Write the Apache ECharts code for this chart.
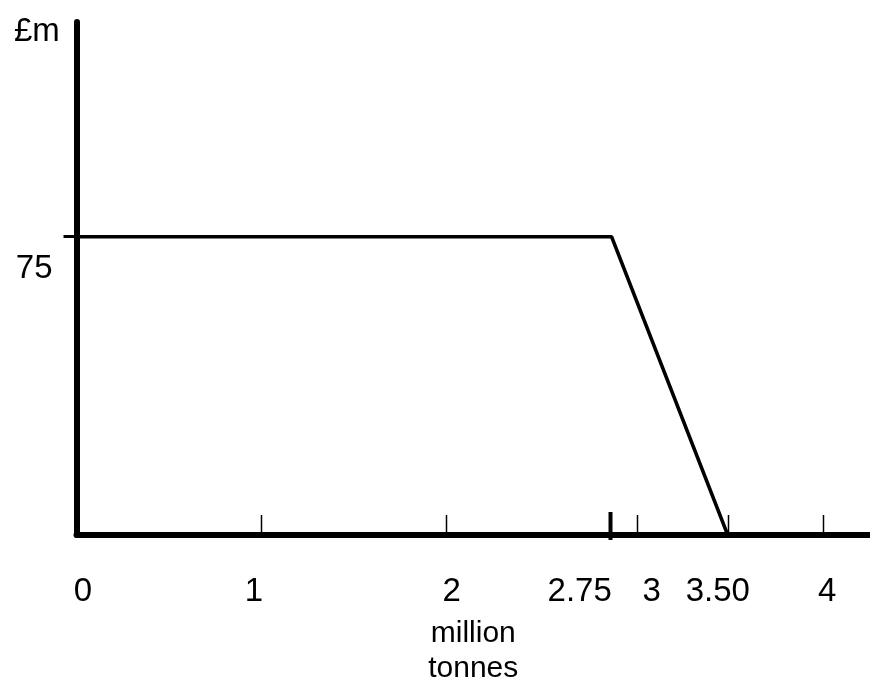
<!DOCTYPE html>
<html style="height: 100%">
    <head>
        <meta charset="utf-8">
        <title>£m vs million tonnes</title>
        <script type="text/javascript" src="https://cdn.jsdelivr.net/npm/echarts@6/dist/echarts.min.js"></script>
    </head>
    <body style="height: 100%; margin: 0; background: #fff">
        <div id="container" style="width: 870px; height: 691px"></div>
        <script type="text/javascript">

        // the kinked line (x in million tonnes as drawn, y in £m)
        var lineX = [0, 2.866, 3.488];
        var lineY = [75, 75, 0];

        // tick marks along the x axis, where they sit on the drawn scale
        var tickPos = [0.99, 1.98, 2.855, 3.0, 3.488, 4.0];
        var tickText = ['1', '2', '2.75', '3', '3.50', '4'];

        // x labels, placed a little off their ticks like the original
        var xLabelPos = [0.035, 0.95, 2.01, 2.695, 3.08, 3.435, 4.02];
        var xLabelText = ['0', '1', '2', '2.75', '3', '3.50', '4'];

        // y axis: a single marked value with its label just below it
        var yTickPos = [75];
        var yLabelPos = [66.9];
        var yLabelText = ['75'];

        var font = 'Liberation Sans, Arial, sans-serif';

        var dom = document.getElementById("container");
        var myChart = echarts.init(dom);

        var lineData = [];
        for (var i = 0; i < lineX.length; i++) {
            lineData.push([lineX[i], lineY[i]]);
        }

        function nearestText(v, pos, text) {
            var best = 0;
            for (var i = 1; i < pos.length; i++) {
                if (Math.abs(pos[i] - v) < Math.abs(pos[best] - v)) best = i;
            }
            return text[best];
        }

        var option = {
            animation: false,
            backgroundColor: '#fff',
            grid: {
                left: 76.5,
                right: 0,
                top: 22,
                bottom: 144
            },
            xAxis: {
                type: 'value',
                min: 0,
                max: 4.25,
                name: 'million\ntonnes',
                nameLocation: 'middle',
                nameGap: 81,
                nameTextStyle: {
                    color: '#000',
                    fontFamily: font,
                    fontSize: 30,
                    lineHeight: 35
                },
                axisLine: { show: true, lineStyle: { color: '#000', width: 6 } },
                axisTick: { show: false },
                splitLine: { show: false },
                axisLabel: {
                    customValues: xLabelPos,
                    margin: 40,
                    color: '#000',
                    fontFamily: font,
                    fontSize: 33,
                    formatter: function (v) {
                        return nearestText(v, xLabelPos, xLabelText);
                    }
                }
            },
            yAxis: {
                type: 'value',
                min: 0,
                max: 129,
                axisLine: { show: true, lineStyle: { color: '#000', width: 6 } },
                splitLine: { show: false },
                axisTick: {
                    show: true,
                    customValues: yTickPos,
                    inside: false,
                    length: 13,
                    lineStyle: { color: '#000', width: 3 }
                },
                axisLabel: {
                    customValues: yLabelPos,
                    margin: 24,
                    color: '#000',
                    fontFamily: font,
                    fontSize: 33,
                    formatter: function (v) {
                        return nearestText(v, yLabelPos, yLabelText);
                    }
                }
            },
            graphic: [{
                type: 'text',
                left: 14,
                top: 15,
                style: {
                    text: '£m',
                    fill: '#000',
                    font: '33px ' + font
                }
            }],
            series: [
                {
                    type: 'line',
                    data: lineData,
                    symbol: 'none',
                    lineStyle: { color: '#000', width: 3.5 },
                    z: 3
                },
                {
                    type: 'custom',
                    clip: false,
                    data: tickPos.map(function (p, i) { return [p, 0, i]; }),
                    renderItem: function (params, api) {
                        var pt = api.coord([api.value(0), 0]);
                        var big = tickText[api.value(2)] === '2.75';
                        var x = Math.round(pt[0]) + 0.5;
                        return {
                            type: 'line',
                            shape: {
                                x1: x, y1: pt[1] - (big ? 23 : 20),
                                x2: x, y2: pt[1] + (big ? 5 : 0)
                            },
                            style: { stroke: '#000', lineWidth: big ? 4 : 1.5 }
                        };
                    },
                    z: 4
                }
            ]
        };

        myChart.setOption(option);

        </script>
    </body>
</html>
